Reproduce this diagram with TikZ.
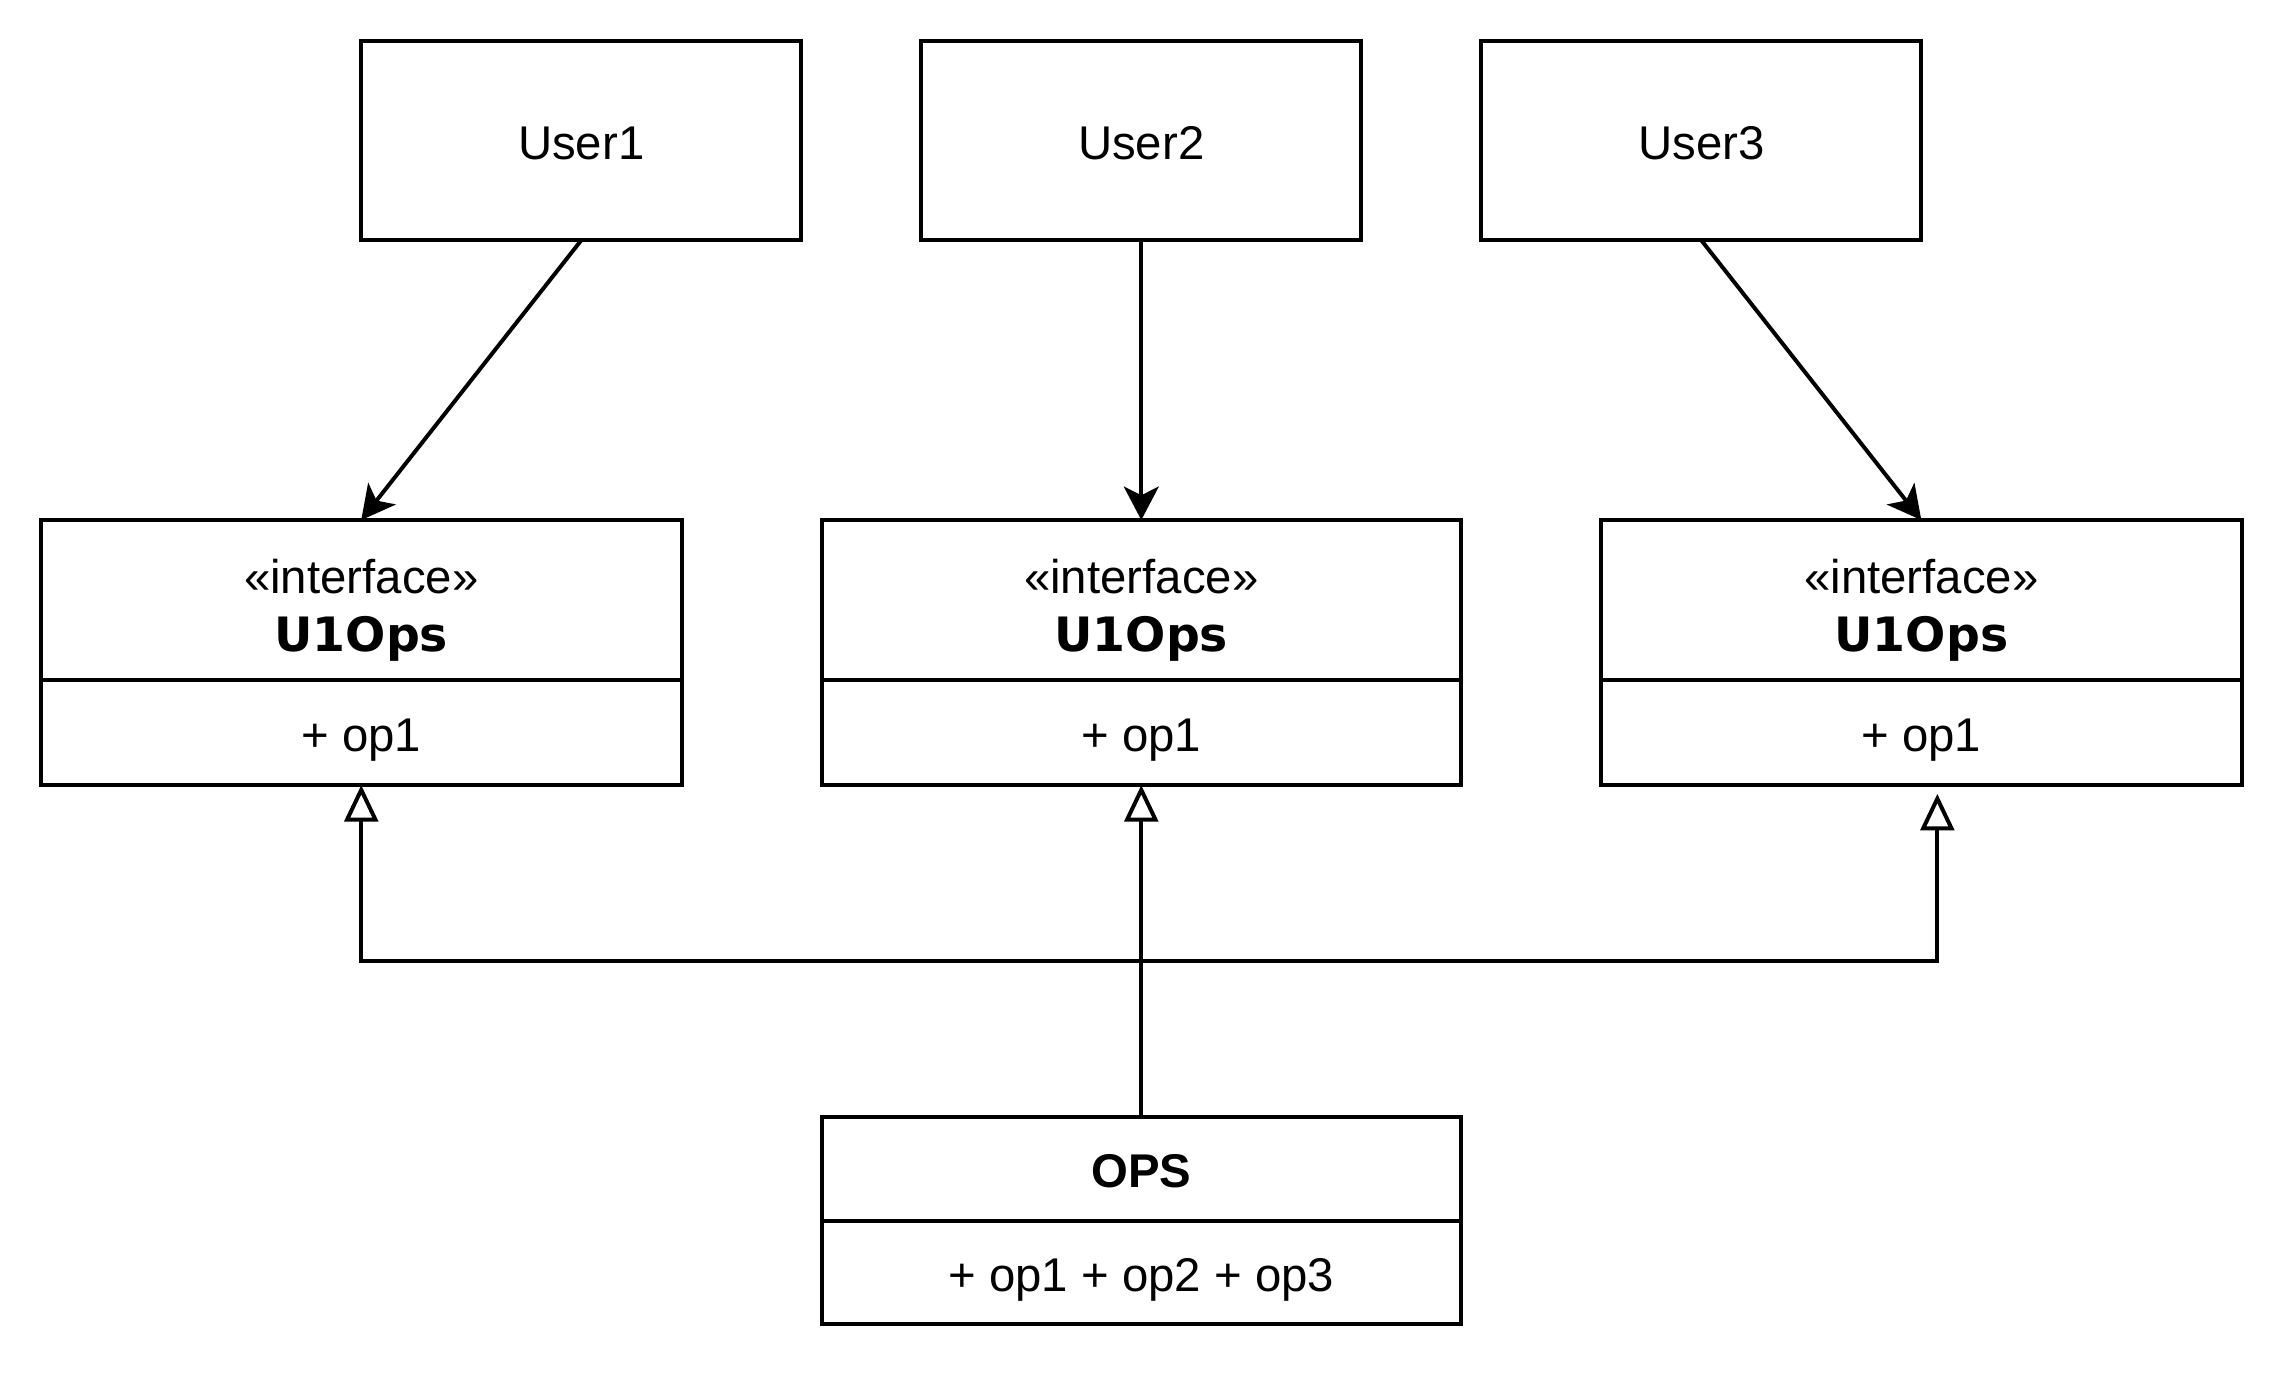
\documentclass[tikz,border=0pt]{standalone}
\usepackage{fontspec}
\setmainfont{Liberation Sans}
\newfontfamily\stereofont{DejaVu Sans}
\usetikzlibrary{positioning,arrows.meta}

\begin{document}
\begin{tikzpicture}[x=0.02cm,y=-0.02cm,line width=1.55pt,
    font=\fontsize{18.5}{22.5}\selectfont,
    box/.style={draw, rectangle, inner sep=0pt, outer sep=0pt, align=center},
    line/.style={box, text height=0.52cm, text depth=0pt},
    dep/.style={-{Stealth[length=0.46cm,width=0.48cm,inset=0.12cm]}},
    inh/.style={-{Triangle[open,length=0.5cm,width=0.46cm]}}]
        \useasboundingbox (0,0) rectangle (1568,947);

        \node[line, minimum width=6.04cm, minimum height=2.74cm] (u1) at (399,96.5) {User1};
        \node[line, minimum width=6.04cm, minimum height=2.74cm] (u2) at (783.5,96.5) {User2};
        \node[line, minimum width=6.04cm, minimum height=2.74cm] (u3) at (1168,96.5) {User3};

        \node[box, minimum width=8.8cm, minimum height=2.2cm] (h1) at (248,412) {\rule{0pt}{0.745cm}«interface»\\{\stereofont\bfseries U1Ops}};
        \node[line, minimum width=8.8cm, minimum height=1.44cm, below=0pt of h1] (m1) {+ op1};
        \node[box, minimum width=8.78cm, minimum height=2.2cm] (h2) at (783.5,412) {\rule{0pt}{0.745cm}«interface»\\{\stereofont\bfseries U1Ops}};
        \node[line, minimum width=8.78cm, minimum height=1.44cm, below=0pt of h2] (m2) {+ op1};
        \node[box, minimum width=8.8cm, minimum height=2.2cm] (h3) at (1319,412) {\rule{0pt}{0.745cm}«interface»\\{\stereofont\bfseries U1Ops}};
        \node[line, minimum width=8.8cm, minimum height=1.44cm, below=0pt of h3] (m3) {+ op1};

        \node[line, minimum width=8.78cm, minimum height=1.42cm] (ops) at (783.5,802.5) {\textbf{OPS}};
        \node[line, minimum width=8.78cm, minimum height=1.42cm, below=0pt of ops] (opsm) {+ op1 + op2 + op3};

        \coordinate (j) at (783.5,660);
        \coordinate (t3) at (1330,545);

        \path[draw,dep] (u1.south) -- (h1.north);
        \path[draw,dep] (u2.south) -- (h2.north);
        \path[draw,dep] (u3.south) -- (h3.north);

        \path[draw,inh] (ops.north) -- (j) -| (m1.south);
        \path[draw,inh] (j) -- (m2.south);
        \path[draw,inh] (j) -| (t3);
    \end{tikzpicture}
\end{document}
